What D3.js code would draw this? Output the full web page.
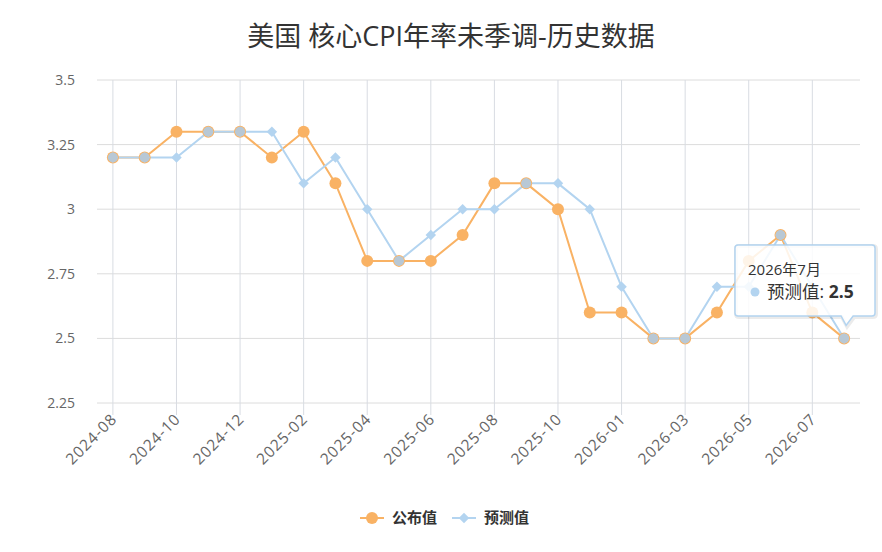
<!DOCTYPE html>
<html>
<head>
<meta charset="utf-8">
<script src="https://cdn.jsdelivr.net/npm/d3@7"></script>
<style>
  body { margin: 0; background: #fff; }
  text { font-family: "Open Sans", "Noto Sans CJK SC", sans-serif; }
</style>
</head>
<body>
<div id="chart"></div>
<script>
const months = ["2024-08", "2024-09", "2024-10", "2024-11", "2024-12", "2025-01", "2025-02", "2025-03",
    "2025-04", "2025-05", "2025-06", "2025-07", "2025-08", "2025-09", "2025-10", "2025-12",
    "2026-01", "2026-02", "2026-03", "2026-04", "2026-05", "2026-06", "2026-07", "2026-08"];
const actual = [3.2, 3.2, 3.3, 3.3, 3.3, 3.2, 3.3, 3.1, 2.8, 2.8, 2.8, 2.9, 3.1, 3.1, 3.0, 2.6,
    2.6, 2.5, 2.5, 2.6, 2.8, 2.9, 2.6, 2.5];
const forecast = [3.2, 3.2, 3.2, 3.3, 3.3, 3.3, 3.1, 3.2, 3.0, 2.8, 2.9, 3.0, 3.0, 3.1, 3.1, 3.0,
    2.7, 2.5, 2.5, 2.7, 2.7, 2.9, 2.7, 2.5];
const yTicks = [2.25, 2.5, 2.75, 3, 3.25, 3.5];
const seriesNames = ["公布值", "预测值"];
const tipTitle = "2026年7月";

(function () {
    const width = 882, height = 552;
    const plot = { left: 97, right: 860, top: 80, bottom: 403 };
    const orange = "#f9b264", blue = "#b3d4f0";

    const svg = d3.select("#chart").append("svg")
        .attr("width", width)
        .attr("height", height);

    svg.append("text")
        .attr("x", width / 2 + 10)
        .attr("y", 46)
        .attr("text-anchor", "middle")
        .style("font-size", "27px")
        .attr("fill", "#333")
        .text("美国 核心CPI年率未季调-历史数据");

    const x = d3.scalePoint()
        .domain(months)
        .range([plot.left, plot.right])
        .padding(0.5);

    const y = d3.scaleLinear()
        .domain([2.25, 3.5])
        .range([plot.bottom, plot.top]);

    const labelled = months.filter((d, i) => i % 2 === 0);

    // horizontal gridlines
    svg.append("g")
        .selectAll("line")
        .data(yTicks)
        .enter()
        .append("line")
        .attr("x1", plot.left)
        .attr("x2", plot.right)
        .attr("y1", d => y(d))
        .attr("y2", d => y(d))
        .attr("stroke", "#dcdcdc")
        .attr("stroke-width", 1);

    // vertical gridlines, running past the axis as ticks
    svg.append("g")
        .selectAll("line")
        .data(labelled)
        .enter()
        .append("line")
        .attr("x1", d => x(d))
        .attr("x2", d => x(d))
        .attr("y1", plot.top)
        .attr("y2", plot.bottom + 12)
        .attr("stroke", "#d8dce2")
        .attr("stroke-width", 1);

    // y labels
    svg.append("g")
        .selectAll("text")
        .data(yTicks)
        .enter()
        .append("text")
        .attr("x", 75)
        .attr("y", d => y(d) + 5)
        .attr("text-anchor", "end")
        .style("font-size", "14px")
        .attr("fill", "#666")
        .text(d => d);

    // x labels
    svg.append("g")
        .selectAll("text")
        .data(labelled)
        .enter()
        .append("text")
        .attr("transform", d => `translate(${x(d) + 5},${plot.bottom + 17}) rotate(-45)`)
        .attr("text-anchor", "end")
        .style("font-size", "15.5px")
        .style("letter-spacing", "0.9px")
        .attr("fill", "#666")
        .text(d => d);

    const line = values => d3.line()
        .x((d, i) => x(months[i]))
        .y(d => y(d))(values);

    svg.append("path")
        .attr("d", line(actual))
        .attr("fill", "none")
        .attr("stroke", orange)
        .attr("stroke-width", 2);

    svg.append("path")
        .attr("d", line(forecast))
        .attr("fill", "none")
        .attr("stroke", blue)
        .attr("stroke-width", 2);

    svg.append("g")
        .selectAll("circle")
        .data(actual)
        .enter()
        .append("circle")
        .attr("cx", (d, i) => x(months[i]))
        .attr("cy", d => y(d))
        .attr("r", 6)
        .attr("fill", orange);

    const diamond = d3.symbol().type(d3.symbolDiamond2).size(70);
    svg.append("g")
        .selectAll("path")
        .data(forecast)
        .enter()
        .append("path")
        .attr("d", diamond)
        .attr("transform", (d, i) => `translate(${x(months[i])},${y(d)})`)
        .attr("fill", blue);

    // where both series meet the marker reads as a grey-blue disc
    svg.append("g")
        .selectAll("circle")
        .data(forecast.map((d, i) => ({ v: d, i })).filter(d => d.v === actual[d.i]))
        .enter()
        .append("circle")
        .attr("cx", d => x(months[d.i]))
        .attr("cy", d => y(d.v))
        .attr("r", 5)
        .attr("fill", "#b8c8d5");

    // legend
    const legend = svg.append("g").attr("transform", "translate(360,518)");
    const items = [{ name: seriesNames[0], color: orange, circle: true },
        { name: seriesNames[1], color: blue, circle: false }];
    items.forEach((it, i) => {
        const g = legend.append("g").attr("transform", `translate(${i * 92},0)`);
        g.append("line")
            .attr("x1", 0).attr("x2", 24)
            .attr("y1", 0).attr("y2", 0)
            .attr("stroke", it.color)
            .attr("stroke-width", 2);
        if (it.circle) {
            g.append("circle").attr("cx", 12).attr("cy", 0).attr("r", 6).attr("fill", it.color);
        } else {
            g.append("path").attr("d", diamond).attr("transform", "translate(12,0)").attr("fill", it.color);
        }
        g.append("text")
            .attr("x", 32)
            .attr("y", 5)
            .style("font-size", "15px")
            .style("font-weight", "bold")
            .attr("fill", "#333")
            .text(it.name);
    });

    // tooltip on the last forecast point
    const last = months.length - 1;
    const px = x(months[last]), py = y(forecast[last]);
    const box = { x0: 735, y0: 245, x1: 875, y1: 316 };
    const tipPath = `M${box.x0 + 3},${box.y0} L${box.x1 - 3},${box.y0} Q${box.x1},${box.y0} ${box.x1},${box.y0 + 3}
        L${box.x1},${box.y1 - 3} Q${box.x1},${box.y1} ${box.x1 - 3},${box.y1}
        L${px + 9},${box.y1} L${px + 2},${py - 13} L${px - 3},${box.y1}
        L${box.x0 + 3},${box.y1} Q${box.x0},${box.y1} ${box.x0},${box.y1 - 3}
        L${box.x0},${box.y0 + 3} Q${box.x0},${box.y0} ${box.x0 + 3},${box.y0} Z`;
    const tip = svg.append("g");
    tip.append("path")
        .attr("d", tipPath)
        .attr("transform", "translate(1,1)")
        .attr("fill", "none")
        .attr("stroke", "#000")
        .attr("stroke-opacity", 0.08)
        .attr("stroke-width", 4);
    tip.append("path")
        .attr("d", tipPath)
        .attr("fill", "#fff")
        .attr("fill-opacity", 0.85)
        .attr("stroke", blue)
        .attr("stroke-width", 1.5);
    tip.append("text")
        .attr("x", 748)
        .attr("y", 275)
        .style("font-size", "15px")
        .attr("fill", "#333")
        .text(tipTitle);
    tip.append("circle")
        .attr("cx", 755)
        .attr("cy", 292)
        .attr("r", 4.5)
        .attr("fill", blue);
    const t2 = tip.append("text")
        .attr("x", 767)
        .attr("y", 298)
        .style("font-size", "17.5px")
        .attr("fill", "#333");
    t2.append("tspan").text(seriesNames[1] + ": ");
    t2.append("tspan").style("font-weight", "bold").text(forecast[last]);
})();
</script>
</body>
</html>
